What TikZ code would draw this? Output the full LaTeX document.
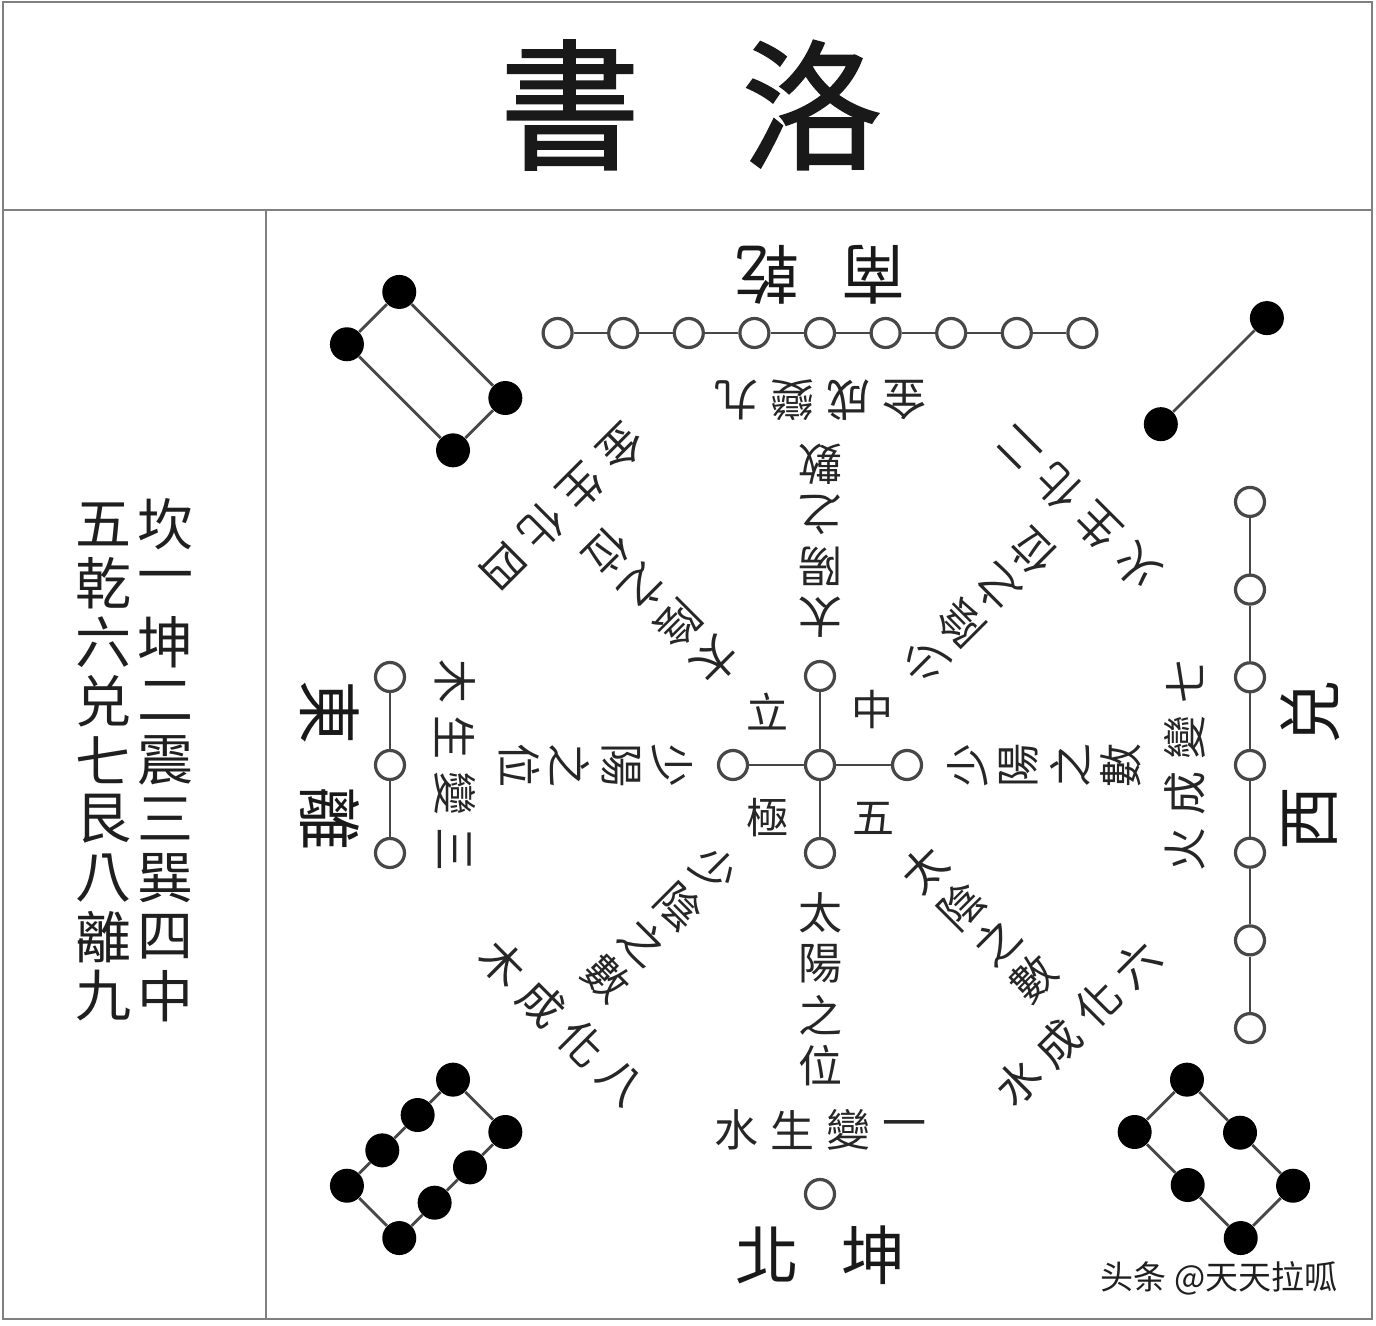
\documentclass[tikz,border=0pt]{standalone}
\usepackage{fontspec}
\newfontfamily\cjk{Noto Sans CJK TC}
\newfontfamily\cjkbold[FakeBold=1.5]{Noto Sans CJK TC}
\newfontfamily\cjksc{Noto Sans CJK SC}
\newcommand\armtext[9]{%
  \begin{scope}[shift={(820,765)},rotate=#1]
    \node[armch,rotate=#1] (col#1a) at (0,148) {#2};
    \node[armch,rotate=#1] (col#1b) at (0,199) {#3};
    \node[armch,rotate=#1] (col#1c) at (0,250) {#4};
    \node[armch,rotate=#1] (col#1d) at (0,301) {#5};
    \node[armch,rotate=#1] (row#1a) at (-84,365) {#6};
    \node[armch,rotate=#1] (row#1b) at (-28,365) {#7};
    \node[armch,rotate=#1] (row#1c) at (28,365) {#8};
    \node[armch,rotate=#1] (row#1d) at (84,365) {#9};
  \end{scope}}
\newcommand\armlabel[3]{%
  \begin{scope}[shift={(820,765)},rotate=#1]
    \node[labch,rotate=#1] (lab#1a) at (-53,490) {#2};
    \node[labch,rotate=#1] (lab#1b) at (53,490) {#3};
  \end{scope}}
\begin{document}
\begin{tikzpicture}[x=0.5pt,y=-0.5pt,
  frame/.style={draw=black!50,line width=1pt},
  link/.style={draw=black!72,line width=1.4pt},
  wc/.style={circle,draw=black!72,line width=1.6pt,fill=white,minimum size=14.5pt,inner sep=0pt},
  bd/.style={circle,fill=black,minimum size=17pt,inner sep=0pt},
  armch/.style={font=\cjk\fontsize{22}{22}\selectfont,inner sep=0pt,text=black!85},
  labch/.style={font=\cjk\fontsize{32}{32}\selectfont,inner sep=0pt,text=black!90},
  cch/.style={font=\cjk\fontsize{21}{21}\selectfont,inner sep=0pt,text=black!85},
  sidech/.style={font=\cjk\fontsize{28}{28}\selectfont,inner sep=0pt,text=black!88},
  titlech/.style={font=\cjkbold\fontsize{70}{70}\selectfont,inner sep=0pt,text=black!90}]
\useasboundingbox (0,0) rectangle (1376,1326);
\fill[white] (0,0) rectangle (1376,1326);
% frame
\draw[frame] (3,2) rectangle (1372,1319);
\draw[frame] (3,210) -- (1372,210);
\draw[frame] (266,210) -- (266,1319);
% title
\node[titlech] (title1) at (570,105) {書};
\node[titlech] (title2) at (812,105) {洛};
% side columns
\foreach \c [count=\i from 0] in {坎,一,坤,二,震,三,巽,四,中}
  \node[sidech] (sr\i) at (165,{524+59*\i}) {\c};
\foreach \c [count=\i from 0] in {五,乾,六,兑,七,艮,八,離,九}
  \node[sidech] (sl\i) at (103,{524+59*\i}) {\c};
% centre cross
\node[wc] (c0) at (820,765) {};
\node[wc] (cu) at (820,676) {};
\node[wc] (cd) at (820,853) {};
\node[wc] (cl) at (733,765) {};
\node[wc] (cr) at (907,765) {};
\draw[link] (cu) -- (c0) -- (cd);
\draw[link] (cl) -- (c0) -- (cr);
\node[cch] (li) at (767,712) {立};
\node[cch] (zh) at (872,710) {中};
\node[cch] (ji) at (767,818) {極};
\node[cch] (wu) at (873,818) {五};
% arm texts
\armtext{0}{太}{陽}{之}{位}{水}{生}{變}{一}
\armtext{180}{太}{陽}{之}{數}{金}{成}{變}{九}
\armtext{-90}{少}{陽}{之}{位}{木}{生}{變}{三}
\armtext{90}{少}{陽}{之}{數}{火}{成}{變}{七}
\armtext{-45}{少}{陰}{之}{數}{木}{成}{化}{八}
\armtext{45}{太}{陰}{之}{數}{水}{成}{化}{六}
\armtext{-135}{太}{陰}{之}{位}{金}{生}{化}{四}
\armtext{135}{少}{陰}{之}{位}{火}{生}{化}{二}
% direction labels
\armlabel{0}{北}{坤}
\armlabel{180}{南}{乾}
\armlabel{-90}{東}{離}
\armlabel{90}{西}{兑}
% one (bottom)
\begin{scope}[shift={(820,765)}]
  \node[wc] (one) at (0,429) {};
\end{scope}
% nine (top)
\begin{scope}[shift={(820,765)},rotate=180]
  \foreach \i in {0,...,8} \node[wc] (nine\i) at ({(\i-4)*65.6},432) {};
\end{scope}
\draw[link] (nine0) -- (nine1) -- (nine2) -- (nine3) -- (nine4) -- (nine5) -- (nine6) -- (nine7) -- (nine8);
% three (left)
\begin{scope}[shift={(820,765)},rotate=-90]
  \foreach \i in {0,...,2} \node[wc] (three\i) at ({(\i-1)*88},430) {};
\end{scope}
\draw[link] (three0) -- (three1) -- (three2);
% seven (right)
\begin{scope}[shift={(820,765)},rotate=90]
  \foreach \i in {0,...,6} \node[wc] (seven\i) at ({(\i-3)*87.7},430) {};
\end{scope}
\draw[link] (seven0) -- (seven1) -- (seven2) -- (seven3) -- (seven4) -- (seven5) -- (seven6);
% two (top right)
\begin{scope}[shift={(820,765)},rotate=135]
  \node[bd] (two0) at (0,482) {};
  \node[bd] (two1) at (0,632) {};
\end{scope}
\draw[link] (two0) -- (two1);
% four (top left)
\begin{scope}[shift={(820,765)},rotate=-135]
  \node[bd] (four0) at (-37,482) {};
  \node[bd] (four1) at (-37,632) {};
  \node[bd] (four2) at (37,632) {};
  \node[bd] (four3) at (37,482) {};
\end{scope}
\draw[link] (four0) -- (four1) -- (four2) -- (four3) -- (four0);
% six (bottom right)
\begin{scope}[shift={(820,765)},rotate=45]
  \node[bd] (six0) at (-37,482) {};
  \node[bd] (six1) at (-37,557) {};
  \node[bd] (six2) at (-37,632) {};
  \node[bd] (six3) at (37,632) {};
  \node[bd] (six4) at (37,557) {};
  \node[bd] (six5) at (37,482) {};
\end{scope}
\draw[link] (six0) -- (six1) -- (six2) -- (six3) -- (six4) -- (six5) -- (six0);
% eight (bottom left)
\begin{scope}[shift={(820,765)},rotate=-45]
  \node[bd] (eight0) at (-37,482) {};
  \node[bd] (eight1) at (-37,532) {};
  \node[bd] (eight2) at (-37,582) {};
  \node[bd] (eight3) at (-37,632) {};
  \node[bd] (eight4) at (37,632) {};
  \node[bd] (eight5) at (37,582) {};
  \node[bd] (eight6) at (37,532) {};
  \node[bd] (eight7) at (37,482) {};
\end{scope}
\draw[link] (eight0) -- (eight1) -- (eight2) -- (eight3) -- (eight4) -- (eight5) -- (eight6) -- (eight7) -- (eight0);
% watermark
\node[font=\cjksc\fontsize{16.5}{16.5}\selectfont,inner sep=0pt,text=black!88] (wm) at (1219,1278) {头条 @天天拉呱};
\end{tikzpicture}
\end{document}
